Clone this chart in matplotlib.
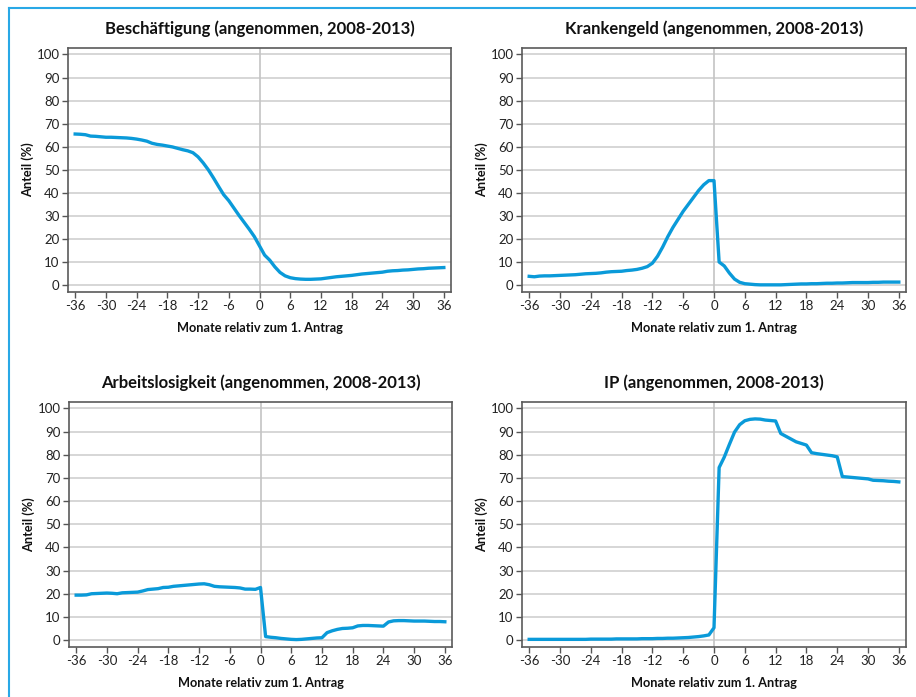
import matplotlib
matplotlib.use("Agg")
import matplotlib.pyplot as plt
from matplotlib.lines import Line2D
import numpy as np

plt.rcParams['font.family'] = ['Lato', 'DejaVu Sans']

months = list(range(-36, 37))

beschaeftigung = [65.5, 65.4, 65.2, 64.6, 64.5, 64.3, 64.1, 64.1, 64.0, 63.9, 63.8, 63.6,
                  63.3, 62.9, 62.4, 61.5, 61.0, 60.7, 60.3, 59.9, 59.3, 58.7, 58.2, 57.4,
                  55.6, 53.0, 50.0, 46.5, 42.8, 39.2, 36.6, 33.4, 30.2, 27.2, 24.2, 21.0,
                  17.0, 13.0, 10.8, 7.9, 5.5, 4.0, 3.2, 2.8, 2.6, 2.5, 2.5, 2.6,
                  2.7, 3.0, 3.3, 3.6, 3.8, 4.0, 4.2, 4.5, 4.8, 5.0, 5.2, 5.4,
                  5.6, 6.0, 6.2, 6.3, 6.5, 6.6, 6.8, 7.0, 7.1, 7.3, 7.4, 7.5, 7.6]

krankengeld = [3.8, 3.6, 3.9, 4.0, 4.0, 4.1, 4.2, 4.3, 4.4, 4.5, 4.7, 4.9,
               5.0, 5.1, 5.3, 5.6, 5.8, 5.9, 6.0, 6.3, 6.5, 6.8, 7.3, 8.0,
               9.5, 12.5, 16.5, 21.0, 25.0, 28.5, 32.0, 35.0, 38.0, 41.0, 43.5, 45.3,
               45.3, 10.0, 8.3, 5.2, 2.6, 1.2, 0.6, 0.4, 0.2, 0.1, 0.1, 0.1,
               0.1, 0.1, 0.2, 0.3, 0.4, 0.5, 0.5, 0.6, 0.6, 0.7, 0.8, 0.8,
               0.9, 0.9, 1.0, 1.1, 1.1, 1.1, 1.1, 1.2, 1.2, 1.3, 1.3, 1.3, 1.3]

arbeitslosigkeit = [19.4, 19.4, 19.5, 20.0, 20.1, 20.2, 20.3, 20.2, 20.0, 20.4, 20.5, 20.6,
                    20.7, 21.2, 21.8, 22.0, 22.2, 22.7, 22.8, 23.2, 23.4, 23.6, 23.8, 24.0,
                    24.2, 24.3, 23.9, 23.2, 23.0, 22.9, 22.8, 22.7, 22.5, 22.0, 22.0, 21.9,
                    22.7, 1.5, 1.2, 1.0, 0.7, 0.5, 0.3, 0.2, 0.3, 0.5, 0.7, 0.9,
                    1.0, 3.2, 4.0, 4.6, 5.0, 5.1, 5.3, 6.1, 6.3, 6.3, 6.2, 6.1,
                    6.0, 7.8, 8.3, 8.4, 8.4, 8.3, 8.2, 8.2, 8.2, 8.1, 8.0, 8.0, 7.9]

ip = [0.3, 0.3, 0.3, 0.3, 0.3, 0.3, 0.3, 0.3, 0.3, 0.3, 0.3, 0.3,
      0.4, 0.4, 0.4, 0.4, 0.4, 0.5, 0.5, 0.5, 0.5, 0.5, 0.6, 0.6,
      0.6, 0.7, 0.7, 0.8, 0.8, 0.9, 1.0, 1.1, 1.3, 1.5, 1.8, 2.2,
      5.3, 74.5, 79.0, 84.5, 89.8, 93.0, 94.7, 95.3, 95.5, 95.4, 95.0, 94.8,
      94.6, 89.2, 88.0, 86.8, 85.6, 84.9, 84.2, 80.9, 80.5, 80.2, 79.9, 79.6,
      79.1, 70.6, 70.4, 70.2, 70.0, 69.8, 69.6, 69.0, 68.9, 68.8, 68.6, 68.5, 68.3]

titles = ["Beschäftigung (angenommen, 2008-2013)",
          "Krankengeld (angenommen, 2008-2013)",
          "Arbeitslosigkeit (angenommen, 2008-2013)",
          "IP (angenommen, 2008-2013)"]
series = [beschaeftigung, krankengeld, arbeitslosigkeit, ip]
xticks = list(range(-36, 37, 6))
yticks = list(range(0, 101, 10))

W, H = 916, 697
fig = plt.figure(figsize=(W / 100, H / 100), dpi=100)

boxes = [(68, 48, 451, 292), (522, 48, 906, 292),
         (69, 402, 452, 647), (522, 402, 906, 647)]

line_color = '#0a9ad9'
for (l, t, r, b), title, vals in zip(boxes, titles, series):
    ax = fig.add_axes([l / W, 1 - b / H, (r - l) / W, (b - t) / H])
    ax.set_xlim(-37.4, 37.4)
    ax.set_ylim(-3.0, 102.8)
    for y in yticks:
        ax.axhline(y, color='#d3d3d3', lw=1.3, zorder=1)
    ax.axvline(0, color='#c4c4c4', lw=1.2, zorder=1)
    ax.plot(months, vals, color=line_color, lw=2.4, zorder=3, solid_joinstyle='round')
    ax.set_xticks(xticks)
    ax.set_xticklabels([str(x) for x in xticks])
    ax.set_yticks(yticks)
    ax.tick_params(axis='both', direction='out', length=4, width=1, color='#555555',
                   labelsize=9.5, labelcolor='#222222', pad=2)
    for s in ax.spines.values():
        s.set_color('#5a5a5a')
        s.set_linewidth(1.2)
    ax.set_title(title, fontsize=12, fontweight='bold', pad=10, color='#111111')
    ax.set_xlabel("Monate relativ zum 1. Antrag", fontsize=9.2, fontweight='bold',
                  labelpad=7, color='#111111')
    ax.set_ylabel("Anteil (%)", fontsize=9.2, fontweight='bold', labelpad=2, color='#111111')

frame_color = '#29a8e6'
fig.add_artist(Line2D([8.5 / W, 8.5 / W], [0, 1 - 7.5 / H], transform=fig.transFigure,
                      color=frame_color, lw=1.5))
fig.add_artist(Line2D([8.5 / W, 1], [1 - 7.5 / H, 1 - 7.5 / H], transform=fig.transFigure,
                      color=frame_color, lw=1.5))

fig.savefig("out.png", dpi=100)
